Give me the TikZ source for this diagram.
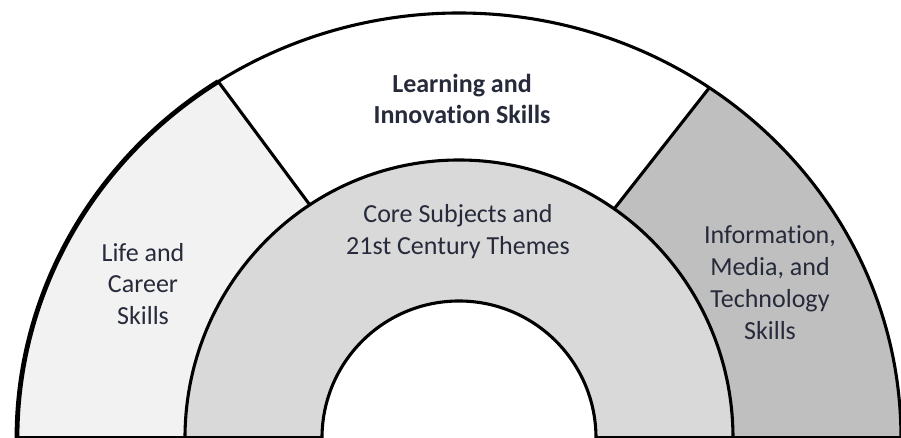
\documentclass[tikz,border=0pt]{standalone}
\usepackage{fontspec}
\setmainfont{Carlito}[Ligatures=NoCommon]
\definecolor{lifegray}{RGB}{242,242,242}
\definecolor{coregray}{RGB}{217,217,217}
\definecolor{techgray}{RGB}{191,191,191}
\definecolor{baseline}{RGB}{90,90,90}
\definecolor{ink}{RGB}{38,42,58}

\begin{document}
\begin{tikzpicture}[
            x = 0.025cm, y = 0.025cm, % one unit is one pixel
            rim/.style = {draw = black, line width = 2.2pt},
            skill/.style = {
                text = ink,
                align = center,
                font = \fontsize{18.5}{22.7}\selectfont
            }
        ]

        \useasboundingbox[fill = white] (-459,0) rectangle (442,438);
        \clip (-459,0) rectangle (442,438);

        % segments
        \fill[lifegray] (180:442 and 425) arc[start angle=180, end angle=123, x radius=442, y radius=425]
            -- (123:274 and 278) arc[start angle=123, end angle=180, x radius=274, y radius=278] -- cycle;
        \fill[techgray] (0:442 and 425) arc[start angle=0, end angle=55.5, x radius=442, y radius=425]
            -- (55.5:274 and 278) arc[start angle=55.5, end angle=0, x radius=274, y radius=278] -- cycle;
        \fill[coregray] (274,0) arc[start angle=0, end angle=180, x radius=274, y radius=278]
            -- (-137,0) arc[start angle=180, end angle=0, radius=137] -- cycle;

        % outlines
        \draw[rim] (0:442 and 425) arc[start angle=0, end angle=123, x radius=442, y radius=425];
        \draw[rim, line width = 3.4pt] (123:442 and 425) arc[start angle=123, end angle=180, x radius=442, y radius=425];
        \draw[rim] (274,0) arc[start angle=0, end angle=180, x radius=274, y radius=278];
        \draw[rim] (137,0) arc[start angle=0, end angle=180, radius=137];
        \draw[rim] (123:274 and 278) -- (123:442 and 425);
        \draw[rim] (55.5:274 and 278) -- (55.5:442 and 425);
        \draw[baseline, line width = 1.4pt] (-442,1) -- (-137,1);
        \draw[baseline, line width = 1.4pt] (137,1) -- (442,1);

        % labels
        \node[skill, font = \fontsize{18.5}{22.7}\selectfont\bfseries] (learn) at (3,339) {Learning and\\Innovation Skills};
        \node[skill] (core) at (-1,206.5) {Core Subjects and\\21st Century Themes};
        \node[skill] (life) at (-316,154) {Life and\\Career\\Skills};
        \node[skill] (tech) at (311,155.5) {Information,\\Media, and\\Technology\\Skills};

\end{tikzpicture}
\end{document}
